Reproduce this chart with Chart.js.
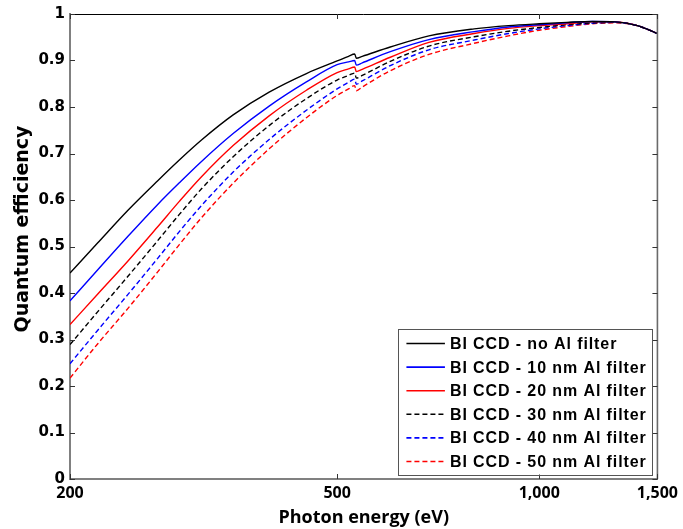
<!DOCTYPE html>
<html><head><meta charset="utf-8">
<script src="https://cdn.jsdelivr.net/npm/chart.js@4.4.1/dist/chart.umd.min.js"></script>
<style>html,body{margin:0;padding:0;background:#fff;}#wrap{position:relative;width:683px;height:529px;}</style>
</head><body><div id="wrap"><canvas id="c" width="683" height="529"></canvas></div>
<script>
const ENERGY_EV = [200,220,244,270,291,314,350,396,450,500,520,531,534,545,600,685,800,900,1000,1100,1200,1300,1400,1500];
const QE_NO_FILTER = [0.443,0.508,0.578,0.641,0.686,0.729,0.783,0.832,0.872,0.899,0.909,0.914,0.905,0.909,0.929,0.953,0.968,0.975,0.979,0.982,0.984,0.983,0.975,0.958];
const QE_10NM = [0.383,0.450,0.522,0.590,0.637,0.683,0.743,0.802,0.854,0.891,0.897,0.900,0.890,0.895,0.919,0.945,0.962,0.972,0.977,0.981,0.984,0.983,0.975,0.958];
const QE_20NM = [0.332,0.398,0.469,0.542,0.597,0.650,0.717,0.781,0.836,0.874,0.882,0.886,0.876,0.881,0.907,0.939,0.958,0.969,0.975,0.979,0.983,0.983,0.975,0.958];
const QE_30NM = [0.289,0.360,0.436,0.512,0.569,0.624,0.693,0.760,0.818,0.858,0.868,0.873,0.862,0.868,0.898,0.931,0.951,0.963,0.971,0.977,0.981,0.982,0.975,0.958];
const QE_40NM = [0.248,0.320,0.397,0.474,0.532,0.588,0.660,0.730,0.793,0.839,0.853,0.860,0.849,0.856,0.889,0.923,0.944,0.958,0.968,0.975,0.980,0.982,0.975,0.958];
const QE_50NM = [0.217,0.291,0.367,0.445,0.504,0.562,0.636,0.710,0.777,0.825,0.839,0.846,0.835,0.843,0.878,0.913,0.937,0.953,0.965,0.973,0.979,0.981,0.975,0.958];
const SERIES_LABELS = ['BI CCD - no Al filter','BI CCD - 10 nm Al filter','BI CCD - 20 nm Al filter','BI CCD - 30 nm Al filter','BI CCD - 40 nm Al filter','BI CCD - 50 nm Al filter'];
const X_TICKS = [200,500,1000,1500];
const X_TICK_LABELS = ['200','500','1,000','1,500'];
const Y_TICKS = [0,0.1,0.2,0.3,0.4,0.5,0.6,0.7,0.8,0.9,1];
const Y_TICK_LABELS = ['0','0.1','0.2','0.3','0.4','0.5','0.6','0.7','0.8','0.9','1'];
const X_TITLE = 'Photon energy (eV)';
const Y_TITLE = 'Quantum efficiency';

const SERIES = [QE_NO_FILTER, QE_10NM, QE_20NM, QE_30NM, QE_40NM, QE_50NM];
const COLORS = ['#000000','#0000ff','#ff0000','#000000','#0000ff','#ff0000'];
const DASHED = [false,false,false,true,true,true];

const datasets = SERIES.map((vals,i)=>({
  label: SERIES_LABELS[i],
  data: ENERGY_EV.map((e,j)=>({x:e, y:vals[j]})),
  borderColor: COLORS[i],
  backgroundColor: COLORS[i],
  borderWidth: 1.4,
  borderDash: DASHED[i] ? [5,3] : [],
  pointRadius: 0,
  cubicInterpolationMode: 'monotone',
  fill: false
}));

const framePlugin = {
  id: 'frame',
  afterDatasetsDraw(chart){
    const {ctx, chartArea:a, scales:{x, y}} = chart;
    ctx.save();
    ctx.strokeStyle = '#000'; ctx.lineWidth = 1;
    ctx.beginPath(); ctx.moveTo(a.left, a.top + 0.5); ctx.lineTo(a.right, a.top + 0.5); ctx.stroke();
    ctx.strokeStyle = '#6a6a6a'; ctx.lineWidth = 1.6;
    ctx.beginPath(); ctx.moveTo(a.right, a.top); ctx.lineTo(a.right, a.bottom); ctx.stroke();
    ctx.strokeStyle = '#333'; ctx.lineWidth = 1;
    Y_TICKS.forEach(v=>{
      const py = Math.round(y.getPixelForValue(v)) + 0.5;
      ctx.beginPath(); ctx.moveTo(a.left, py); ctx.lineTo(a.left + 5, py); ctx.stroke();
      ctx.beginPath(); ctx.moveTo(a.right - 5, py); ctx.lineTo(a.right, py); ctx.stroke();
    });
    X_TICKS.forEach(v=>{
      const px = Math.round(x.getPixelForValue(v)) + 0.5;
      ctx.beginPath(); ctx.moveTo(px, a.bottom); ctx.lineTo(px, a.bottom - 5); ctx.stroke();
      ctx.beginPath(); ctx.moveTo(px, a.top); ctx.lineTo(px, a.top + 5); ctx.stroke();
    });
    ctx.restore();
  }
};

const yTitlePlugin = {
  id: 'yTitle',
  afterDraw(chart){
    const ctx = chart.ctx;
    ctx.save();
    ctx.translate(23, 229);
    ctx.rotate(-Math.PI/2);
    ctx.textAlign = 'center'; ctx.textBaseline = 'middle';
    ctx.fillStyle = '#000';
    ctx.font = 'bold 19px "DejaVu Sans", sans-serif';
    ctx.fillText(Y_TITLE, 0, 0);
    ctx.restore();
  }
};

const legendPlugin = {
  id: 'legendBox',
  afterDraw(chart){
    const {ctx, chartArea:a} = chart;
    const w = 254, h = 146;
    const right = a.right - 5.5, bottom = a.bottom - 4.5;
    const left = right - w, top = bottom - h;
    ctx.save();
    ctx.fillStyle = '#fff'; ctx.fillRect(left, top, w, h);
    ctx.strokeStyle = '#555'; ctx.lineWidth = 1;
    ctx.strokeRect(Math.round(left) + 0.5, Math.round(top) + 0.5, w, h);
    ctx.font = 'bold 16px "Liberation Sans", Arial, sans-serif';
    try { ctx.letterSpacing = '0.9px'; } catch(e) {}
    ctx.textBaseline = 'middle'; ctx.textAlign = 'left';
    chart.data.datasets.forEach((ds, i)=>{
      const cy = top + 15 + i * 23.6;
      ctx.strokeStyle = ds.borderColor; ctx.lineWidth = 1.6;
      ctx.setLineDash(ds.borderDash || []);
      ctx.beginPath(); ctx.moveTo(left + 8.5, cy); ctx.lineTo(left + 47, cy); ctx.stroke();
      ctx.setLineDash([]);
      ctx.fillStyle = '#000';
      ctx.fillText(ds.label, left + 52, cy + 1);
    });
    ctx.restore();
  }
};

new Chart(document.getElementById('c'), {
  type: 'line',
  data: { datasets },
  options: {
    responsive: false,
    animation: false,
    devicePixelRatio: 1,
    layout: { padding: { left: 0, right: 25, top: 14, bottom: 0 } },
    plugins: { legend: { display: false }, tooltip: { enabled: false } },
    scales: {
      x: {
        type: 'logarithmic', min: 200, max: 1500,
        afterBuildTicks: s => { s.ticks = X_TICKS.map(v => ({ value: v })); },
        afterFit: s => { s.height = 50; },
        grid: { display: false, drawTicks: false },
        border: { display: true, color: '#808080', width: 2 },
        ticks: { autoSkip: false, maxRotation: 0, minRotation: 0, padding: 5, color: '#000',
          font: { family: 'Open Sans', weight: 'bold', size: 16 },
          callback: (v, i) => X_TICK_LABELS[i] },
        title: { display: true, text: X_TITLE, color: '#000', padding: { top: 0, bottom: 0 },
          font: { family: 'Open Sans', weight: 'bold', size: 18 } }
      },
      y: {
        type: 'linear', min: 0, max: 1,
        afterBuildTicks: s => { s.ticks = Y_TICKS.map(v => ({ value: v })); },
        afterFit: s => { s.width = 70; },
        grid: { display: false, drawTicks: false },
        border: { display: true, color: '#808080', width: 2 },
        ticks: { autoSkip: false, padding: 5, color: '#000',
          font: { family: 'DejaVu Sans', weight: 'bold', size: 15 },
          callback: (v, i) => Y_TICK_LABELS[i] }
      }
    }
  },
  plugins: [framePlugin, yTitlePlugin, legendPlugin]
});
</script></body></html>
